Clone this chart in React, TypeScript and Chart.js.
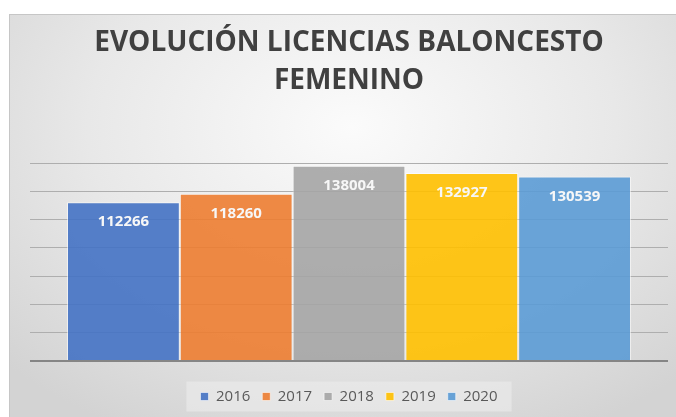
import React, { useEffect, useRef } from "react";
import { Chart, registerables } from "chart.js";

Chart.register(...registerables);

const categories = ["Licencias"];
const seriesYears = ["2016", "2017", "2018", "2019", "2020"];
const seriesValues = [112266, 118260, 138004, 132927, 130539];
const seriesColors = [
  "rgba(68,114,196,0.9)",
  "rgba(237,125,49,0.9)",
  "rgba(165,165,165,0.9)",
  "rgba(255,192,0,0.9)",
  "rgba(91,155,213,0.9)",
];
const titleLines = ["EVOLUCIÓN LICENCIAS BALONCESTO", "FEMENINO"];
const yMax = 140000;
const yStep = 20000;

const FONT = "'Open Sans', 'DejaVu Sans', sans-serif";

const labelPlugin = {
  id: "barLabels",
  afterDatasetsDraw(chart: any) {
    const ctx = chart.ctx;
    ctx.save();
    ctx.font = `bold 15px ${FONT}`;
    ctx.fillStyle = "#f7f7f7";
    ctx.textAlign = "center";
    ctx.textBaseline = "middle";
    chart.data.datasets.forEach((ds: any, i: number) => {
      const meta = chart.getDatasetMeta(i);
      meta.data.forEach((bar: any, j: number) => {
        ctx.fillText(String(ds.data[j]), bar.x, bar.y + 20);
      });
    });
    ctx.restore();
  },
};

const legendBgPlugin = {
  id: "legendBg",
  beforeDraw(chart: any) {
    const lg = chart.legend;
    if (!lg || !lg.legendHitBoxes || !lg.legendHitBoxes.length) return;
    const boxes = lg.legendHitBoxes;
    let minX = Infinity, maxX = -Infinity, cy = 0;
    boxes.forEach((b: any) => {
      minX = Math.min(minX, b.left);
      maxX = Math.max(maxX, b.left + b.width);
      cy = b.top + b.height / 2;
    });
    const ctx = chart.ctx;
    ctx.save();
    ctx.fillStyle = "rgba(234,234,234,0.7)";
    ctx.fillRect(minX - 14, cy - 15, maxX - minX + 28, 30);
    ctx.restore();
  },
};

export default function App() {
  const ref = useRef<HTMLCanvasElement>(null);
  useEffect(() => {
    if (!ref.current) return;
    const chart = new Chart(ref.current, {
      type: "bar",
      data: {
        labels: categories,
        datasets: seriesYears.map((y, i) => ({
          label: y,
          data: [seriesValues[i]],
          backgroundColor: seriesColors[i],
          borderColor: "rgba(255,255,255,0.55)",
          borderWidth: 1,
          categoryPercentage: 0.884,
          barPercentage: 1,
        })),
      },
      options: {
        responsive: false,
        animation: false,
        layout: { padding: { left: 21, right: 27, top: 0, bottom: 3 } },
        scales: {
          x: {
            display: true,
            ticks: { display: false },
            grid: { display: false },
            border: { display: false },
            afterFit: (s: any) => {
              s.height = 16;
            },
          },
          y: {
            min: 0,
            max: yMax,
            ticks: { display: false, stepSize: yStep },
            grid: {
              drawTicks: false,
              color: (c: any) => (c.tick && c.tick.value === 0 ? "#858585" : "#aeaeae"),
              lineWidth: (c: any) => (c.tick && c.tick.value === 0 ? 2 : 1),
            },
            border: { display: false },
          },
        },
        plugins: {
          title: {
            display: true,
            text: titleLines,
            color: "#404040",
            font: { family: FONT, size: 28, weight: "bold", lineHeight: 38 / 28 },
            padding: { top: 10, bottom: 63 },
          },
          legend: {
            position: "bottom",
            labels: {
              boxWidth: 8,
              boxHeight: 8,
              padding: 12,
              color: "#595959",
              font: { family: FONT, size: 15 },
            },
          },
          tooltip: { enabled: false },
        },
      },
      plugins: [labelPlugin, legendBgPlugin],
    });
    return () => chart.destroy();
  }, []);

  return (
    <div
      style={{
        position: "absolute",
        left: 0,
        top: 0,
        width: 676,
        height: 417,
        overflow: "hidden",
        background: "#ffffff",
      }}
    >
      <div
        style={{
          position: "absolute",
          left: 9,
          top: 14,
          width: 686,
          height: 403,
          background:
            "radial-gradient(ellipse 70% 85% at 50% 28%, #fbfbfb 0%, #e8e8e8 55%, #d3d3d3 100%)",
          boxShadow: "inset 1px 1px 0 #c6c6c6",
        }}
      >
        <canvas ref={ref} width={686} height={403} style={{ display: "block" }} />
      </div>
    </div>
  );
}
